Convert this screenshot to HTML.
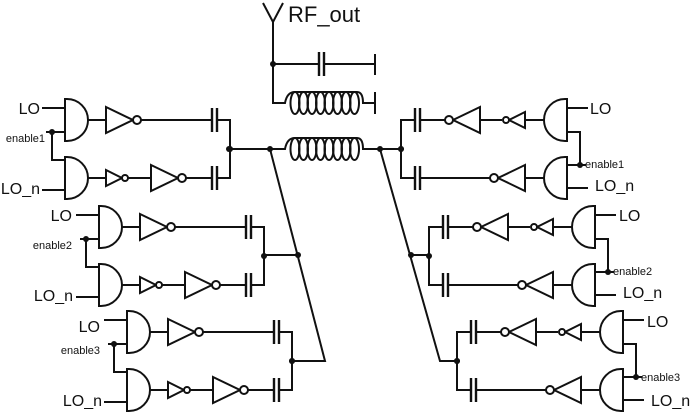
<!DOCTYPE html>
<html><head><meta charset="utf-8"><style>
html,body{margin:0;padding:0;background:#fff;}
svg{display:block;}
text{font-family:"Liberation Sans",Arial,sans-serif;fill:#111;}
</style></head><body>
<svg width="691" height="413" viewBox="0 0 691 413" xmlns="http://www.w3.org/2000/svg">
<defs>
<g id="gate"><path d="M0,-21 H2 A21,21 0 0 1 2,21 H0 Z" fill="#fff" stroke="#111" stroke-width="2"/></g>
<g id="inv"><path d="M0,-13 L27,0 L0,13 Z" fill="#fff" stroke="#111" stroke-width="2"/><circle cx="31" cy="0" r="4" fill="#fff" stroke="#111" stroke-width="2"/></g>
<g id="sinv"><path d="M0,-8 L16,0 L0,8 Z" fill="#fff" stroke="#111" stroke-width="2"/><circle cx="19" cy="0" r="3" fill="#fff" stroke="#111" stroke-width="2"/></g>
<g id="cap"><path d="M0,-12 V12 M5,-12 V12" stroke="#111" stroke-width="2.4" fill="none"/></g>
<g id="lblock" stroke="#111" stroke-width="2" fill="none">
  <path d="M-23,-12 H0 M-19,12 H0 M-13,12 V40 H0 M-23,70 H0"/>
  <circle cx="-13" cy="12" r="3" fill="#111" stroke="none"/>
  <use href="#gate" x="0" y="0"/><use href="#gate" x="0" y="58"/>
  <path d="M23,0 H41 M76,0 H147 M152,0 H165 V58 H152 M23,58 H41 M63,58 H86 M121,58 H147"/>
  <use href="#inv" x="41" y="0"/>
  <use href="#sinv" x="41" y="58"/><use href="#inv" x="86" y="58"/>
  <use href="#cap" x="147" y="0"/><use href="#cap" x="147" y="58"/>
  <circle cx="165" cy="29" r="3" fill="#111" stroke="none"/>
</g>
<g id="rblock" stroke="#111" stroke-width="2" fill="none">
  <path d="M0,-12 H-21 M0,12 H-13 V45 M0,45 H-19 M0,68 H-21"/>
  <circle cx="-13" cy="45" r="3" fill="#111" stroke="none"/>
  <use href="#gate" x="0" y="0"/><use href="#gate" x="0" y="58"/>
  <path d="M23,0 H42 M65,0 H87 M122,0 H147 M152,0 H166 V58 H152 M23,58 H42 M77,58 H147"/>
  <use href="#sinv" x="42" y="0"/><use href="#inv" x="87" y="0"/>
  <use href="#inv" x="42" y="58"/>
  <use href="#cap" x="147" y="0"/><use href="#cap" x="147" y="58"/>
  <circle cx="166" cy="29" r="3" fill="#111" stroke="none"/>
</g>
<g id="coil" stroke="#111" stroke-width="2" fill="none">
  <path d="M-2,0 H0 Q2,-11 10,-11 H72"/>
  <ellipse cx="10" cy="0" rx="4.5" ry="11"/><ellipse cx="18.5" cy="0" rx="4.5" ry="11"/>
  <ellipse cx="27" cy="0" rx="4.5" ry="11"/><ellipse cx="35.5" cy="0" rx="4.5" ry="11"/>
  <ellipse cx="44" cy="0" rx="4.5" ry="11"/><ellipse cx="52.5" cy="0" rx="4.5" ry="11"/>
  <ellipse cx="61" cy="0" rx="4.5" ry="11"/><ellipse cx="69.5" cy="0" rx="4.5" ry="11"/>
  <path d="M72,-11 Q78,-11 78,0 H80"/>
</g>
</defs>

<!-- antenna & top -->
<g stroke="#111" stroke-width="2" fill="none">
  <path d="M263,3 L273,22 L283,3 M273,22 V103 H285"/>
  <path d="M273,64 H319 M324,64 H375 M375,54 V75"/>
  <path d="M365,103 H375 M375,92 V114"/>
  <path d="M229,149 H285 M365,149 H401"/>
  <path d="M270,149 L325,361 H292 M264,255 H298"/>
  <path d="M380,149 L440,361 H457 M411,255 H429"/>
</g>
<use href="#cap" x="319" y="64"/>
<use href="#coil" x="285" y="103"/>
<use href="#coil" x="285" y="149"/>
<g fill="#111">
<circle cx="273" cy="64" r="3"/><circle cx="229" cy="149" r="3"/><circle cx="270" cy="149" r="3"/>
<circle cx="380" cy="149" r="3"/><circle cx="401" cy="149" r="3"/>
<circle cx="298" cy="255" r="3"/><circle cx="411" cy="255" r="3"/>
<circle cx="292" cy="361" r="3"/><circle cx="457" cy="361" r="3"/>
</g>
<text x="288" y="22" font-size="22">RF_out</text>

<use href="#lblock" transform="translate(65,120)"/>
<use href="#lblock" transform="translate(99,227)"/>
<use href="#lblock" transform="translate(127,332)"/>
<use href="#rblock" transform="translate(567,120) scale(-1,1)"/>
<use href="#rblock" transform="translate(595,227) scale(-1,1)"/>
<use href="#rblock" transform="translate(623,332) scale(-1,1)"/>

<g font-size="16" text-anchor="end">
<text x="40" y="114">LO</text><text x="40" y="194">LO_n</text>
<text x="72" y="221">LO</text><text x="73" y="301">LO_n</text>
<text x="100" y="332">LO</text><text x="102" y="406">LO_n</text>
</g>
<g font-size="11" text-anchor="end">
<text x="45" y="142">enable1</text><text x="72" y="249">enable2</text><text x="100" y="354">enable3</text>
</g>
<g font-size="16">
<text x="590" y="114">LO</text><text x="595" y="191">LO_n</text>
<text x="619" y="221">LO</text><text x="623" y="298">LO_n</text>
<text x="647" y="327">LO</text><text x="651" y="406">LO_n</text>
</g>
<g font-size="11">
<text x="585" y="168">enable1</text><text x="613" y="275">enable2</text><text x="641" y="381">enable3</text>
</g>
</svg>
</body></html>
